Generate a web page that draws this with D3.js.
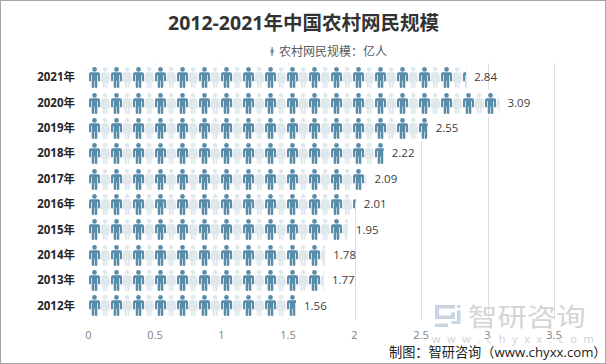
<!DOCTYPE html>
<html><head><meta charset="utf-8">
<script src="https://cdn.jsdelivr.net/npm/d3@7"></script>
<style>html,body{margin:0;padding:0;background:#fff}svg{display:block}text{font-family:"Open Sans","Noto Sans CJK SC",sans-serif}</style>
</head><body><div id="c"></div>
<script>
const years=["2021年","2020年","2019年","2018年","2017年","2016年","2015年","2014年","2013年","2012年"];
const values=[2.84,3.09,2.55,2.22,2.09,2.01,1.95,1.78,1.77,1.56];
const ticks=[0,0.5,1,1.5,2,2.5,3,3.5];
const W=606,H=364;
const x=d3.scaleLinear().domain([0,3.5]).range([88.5,554]);
const y=d3.scaleBand().domain(years).range([63.2,319.8]).padding(0.12);
const svg=d3.select("#c").append("svg").attr("width",W).attr("height",H);
svg.append("rect").attr("x",0.5).attr("y",0.5).attr("width",W-1).attr("height",H-1).attr("fill","#fff").attr("stroke","#a6a6a6");
const man="M5.5 0a2.4 2.4 0 1 1 0 4.8a2.4 2.4 0 1 1 0-4.8zM1.8 5.2H9.2Q11 5.2 11 7V13.5Q11 14.5 10 14.5T9 13.5V8H8.3V20Q8.3 21 7 21T5.8 20V13.5H5.2V20Q5.2 21 4 21T2.7 20V8H2V13.5Q2 14.5 1 14.5T0 13.5V7Q0 5.2 1.8 5.2Z";
const woman="M5.2 0a2.3 2.3 0 1 1 0 4.6a2.3 2.3 0 1 1 0-4.6zM3 5.2H7.4C8.6 5.2 9.1 5.8 9.3 6.8L10.4 13C10.6 14.2 9 14.4 8.8 13.3L8 9L9.6 15.5H7.6V20Q7.6 21 6.5 21T5.5 20V15.5H4.9V20Q4.9 21 3.9 21T2.8 20V15.5H.8L2.4 9L1.6 13.3C1.4 14.4-.2 14.2 0 13L1.1 6.8C1.3 5.8 1.8 5.2 3 5.2Z";
const defs=svg.append("defs");
years.forEach((yr,i)=>{
  const p=defs.append("pattern").attr("id","p"+i).attr("patternUnits","userSpaceOnUse")
    .attr("x",88).attr("y",Math.round(y(yr))).attr("width",22).attr("height",24);
  p.append("path").attr("d",man).attr("fill","#588ca9").attr("transform","translate(1,1)");
  p.append("path").attr("d",woman).attr("fill","#dfe8ed").attr("transform","translate(12,1)");
});
svg.append("g").selectAll("line").data(ticks).join("line")
  .attr("x1",d=>Math.round(x(d))+0.5).attr("x2",d=>Math.round(x(d))+0.5).attr("y1",63.5).attr("y2",320)
  .attr("stroke",d=>d===0?"#e8e8e8":"#dedede");
// opaque white backing: gridlines pass behind the picture bars
svg.append("g").selectAll("rect").data(values).join("rect")
  .attr("x",89).attr("y",(d,i)=>y(years[i])-y.step()*y.paddingInner()/2).attr("height",y.step())
  .attr("width",d=>x(d)-89).attr("fill","#fff");
svg.append("g").selectAll("rect").data(values).join("rect")
  .attr("x",88).attr("y",(d,i)=>Math.round(y(years[i]))).attr("height",24)
  .attr("width",d=>x(d)-88).attr("fill",(d,i)=>`url(#p${i})`);
svg.append("g").selectAll("text").data(values).join("text")
  .attr("x",d=>x(d)+8).attr("y",(d,i)=>y(years[i])+y.bandwidth()/2+4)
  .attr("font-size",11.5).attr("fill","#404040").text(d=>d.toFixed(2));
svg.append("g").selectAll("text").data(years).join("text")
  .attr("x",75).attr("y",d=>y(d)+y.bandwidth()/2+4)
  .attr("text-anchor","end")
  .attr("font-size",11.5).attr("font-weight",700).attr("fill","#262626").text(d=>d);
svg.append("g").selectAll("text").data(ticks).join("text")
  .attr("x",d=>x(d)).attr("y",339).attr("text-anchor","middle")
  .attr("font-size",11).attr("fill","#808080").text(d=>d);
svg.append("text").attr("x",303.5).attr("y",29.5).attr("text-anchor","middle")
  .attr("font-size",19.5).attr("font-weight",700).attr("fill","#333").text("2012-2021年中国农村网民规模");
svg.append("path").attr("d",man).attr("fill","#5b8ba8").attr("transform","translate(270.5,47) scale(0.3,0.42)");
svg.append("text").attr("x",279).attr("y",56).attr("font-size",12).attr("fill","#595959").text("农村网民规模：亿人");
const wm=svg.append("g").attr("fill","#c8d6e4");
wm.append("path").attr("d","M435 305h20v3.5h-16v7h12v-3h4v6.5h-20zM457 305h3.5v3h-3.5zM457 310h3.5v14h-9v-3h5.500zM435 323.500h13v3.500h-13z");
svg.append("text").attr("transform","translate(468,326) scale(1.2,1)").attr("font-size",24.500).attr("fill","#d4d4d4").text("智研咨询");
svg.append("text").attr("x",432).attr("y",343).attr("font-size",11).attr("fill","#d0d0d0").attr("letter-spacing",6.6).text("www.chyxx.com");
svg.append("text").attr("x",389).attr("y",357).attr("font-size",13.2).attr("fill","#222").text("制图：智研咨询（www.chyxx.com）");
</script></body></html>
